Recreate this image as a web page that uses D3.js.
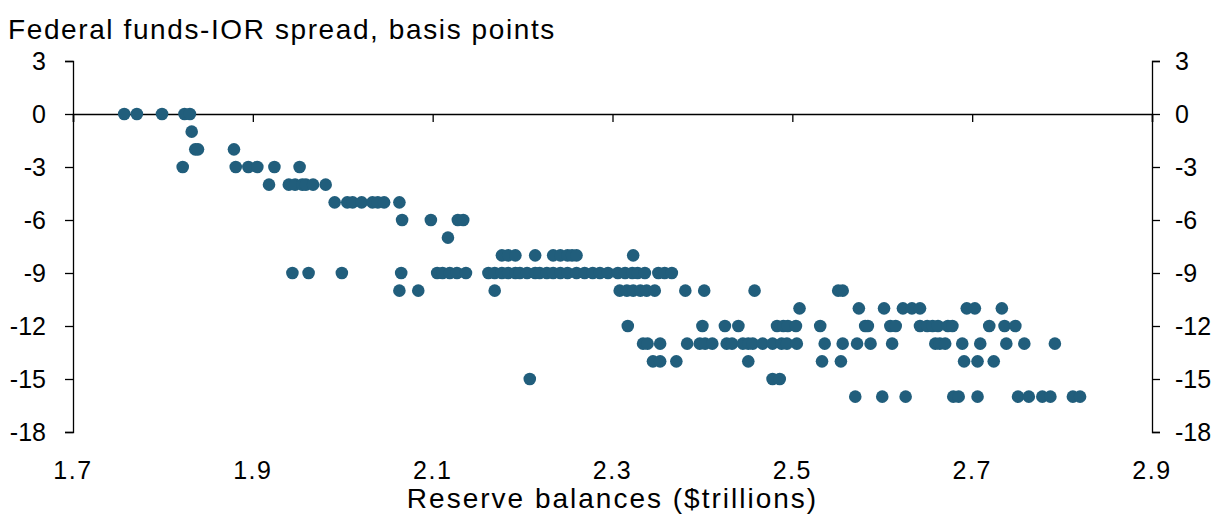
<!DOCTYPE html>
<html>
<head>
<meta charset="utf-8">
<script src="https://cdn.jsdelivr.net/npm/d3@7"></script>
<style>
  body { margin: 0; background: #fff; }
  text { font-family: "Liberation Sans", Arial, sans-serif; fill: #000; }
</style>
</head>
<body>
<div id="chart"></div>
<script>
const width = 1228;
const height = 514;

// reserve balances ($trillions) for each spread level (basis points)
const spread0 = [1.757, 1.771, 1.799, 1.824, 1.830];
const spreadM1 = [1.832];
const spreadM2 = [1.836, 1.839, 1.879];
const spreadM3 = [1.822, 1.881, 1.895, 1.905, 1.924, 1.952];
const spreadM4 = [1.918, 1.940, 1.947, 1.955, 1.959, 1.967, 1.981];
const spreadM5 = [1.991, 2.005, 2.011, 2.021, 2.033, 2.039, 2.046, 2.063];
const spreadM6 = [2.066, 2.098, 2.128, 2.134];
const spreadM7 = [2.117];
const spreadM8 = [2.177, 2.184, 2.192, 2.214, 2.234, 2.242, 2.250, 2.255, 2.260, 2.323];
const spreadM9 = [1.944, 1.962, 1.999, 2.065, 2.105, 2.111, 2.119, 2.127, 2.137, 2.162,
  2.169, 2.177, 2.184, 2.192, 2.197, 2.205, 2.214, 2.219, 2.227, 2.234, 2.242, 2.250,
  2.260, 2.269, 2.278, 2.286, 2.295, 2.306, 2.314, 2.322, 2.328, 2.336, 2.351, 2.358, 2.366];
const spreadM10 = [2.063, 2.084, 2.169, 2.308, 2.316, 2.323, 2.331, 2.338, 2.347, 2.381,
  2.402, 2.458, 2.551, 2.556];
const spreadM11 = [2.508, 2.574, 2.602, 2.623, 2.633, 2.642, 2.694, 2.703, 2.733];
const spreadM12 = [2.317, 2.400, 2.425, 2.440, 2.483, 2.490, 2.495, 2.504, 2.531, 2.581,
  2.584, 2.609, 2.615, 2.642, 2.650, 2.656, 2.662, 2.673, 2.678, 2.719, 2.736, 2.748];
const spreadM13 = [2.334, 2.339, 2.353, 2.383, 2.397, 2.403, 2.411, 2.427, 2.433, 2.445,
  2.451, 2.456, 2.467, 2.478, 2.488, 2.494, 2.505, 2.536, 2.556, 2.572, 2.587, 2.611,
  2.659, 2.664, 2.670, 2.689, 2.709, 2.738, 2.758, 2.792];
const spreadM14 = [2.345, 2.353, 2.371, 2.451, 2.533, 2.554, 2.691, 2.706, 2.724];
const spreadM15 = [2.208, 2.478, 2.486];
const spreadM16 = [2.570, 2.600, 2.626, 2.679, 2.685, 2.706, 2.751, 2.763, 2.778, 2.787,
  2.812, 2.820];

const xTicks = [1.7, 1.9, 2.1, 2.3, 2.5, 2.7, 2.9];
const yTicks = [3, 0, -3, -6, -9, -12, -15, -18];

const rows = [
  [0, spread0], [-1, spreadM1], [-2, spreadM2], [-3, spreadM3], [-4, spreadM4],
  [-5, spreadM5], [-6, spreadM6], [-7, spreadM7], [-8, spreadM8], [-9, spreadM9],
  [-10, spreadM10], [-11, spreadM11], [-12, spreadM12], [-13, spreadM13],
  [-14, spreadM14], [-15, spreadM15], [-16, spreadM16]
];
const points = [];
rows.forEach(([s, xs]) => xs.forEach(r => points.push({ r: r, s: s })));

const plotLeft = 73, plotRight = 1152, plotTop = 61, plotBottom = 432;

const x = d3.scaleLinear().domain([1.7, 2.9]).range([plotLeft, plotRight]);
const y = d3.scaleLinear().domain([-18, 3]).range([plotBottom, plotTop]);

const svg = d3.select("#chart").append("svg")
    .attr("width", width)
    .attr("height", height);

// plain hyphen for negatives, like the original
const fmt = d => String(d);

// left axis
const yLeft = svg.append("g")
    .attr("transform", `translate(${plotLeft},0)`)
    .call(d3.axisLeft(y).tickValues(yTicks).tickSize(8).tickPadding(19).tickFormat(fmt));

// right axis
const yRight = svg.append("g")
    .attr("transform", `translate(${plotRight},0)`)
    .call(d3.axisRight(y).tickValues(yTicks).tickSize(8).tickPadding(15).tickFormat(fmt));

[yLeft, yRight].forEach(g => {
  g.select(".domain").attr("stroke", "#000").attr("stroke-width", 1.3);
  g.selectAll(".tick line").attr("stroke", "#000").attr("stroke-width", 1.3);
  g.selectAll(".tick text")
    .attr("font-size", 25)
    .attr("font-family", "Liberation Sans, Arial, sans-serif")
    .attr("fill", "#000");
});

// zero line with x ticks
const xAxis = svg.append("g")
    .attr("transform", `translate(0,${y(0)})`)
    .call(d3.axisBottom(x).tickValues(xTicks).tickSize(8).tickFormat(""));
xAxis.select(".domain").attr("stroke", "#000").attr("stroke-width", 1.5);
xAxis.selectAll(".tick line").attr("stroke", "#000").attr("stroke-width", 1.3);

// x tick labels at the bottom
svg.append("g")
  .selectAll("text")
  .data(xTicks)
  .join("text")
    .attr("x", d => x(d))
    .attr("y", 479)
    .attr("text-anchor", "middle")
    .attr("font-size", 25)
    .attr("letter-spacing", 1.5)
    .text(d => d.toFixed(1));

// points
svg.append("g")
  .selectAll("circle")
  .data(points)
  .join("circle")
    .attr("cx", d => x(d.r))
    .attr("cy", d => y(d.s))
    .attr("r", 6.3)
    .attr("fill", "#215e7c");

// titles
svg.append("text")
    .attr("x", 8)
    .attr("y", 39)
    .attr("font-size", 28)
    .attr("letter-spacing", 1.6)
    .text("Federal funds-IOR spread, basis points");

svg.append("text")
    .attr("x", (plotLeft + plotRight) / 2)
    .attr("y", 508)
    .attr("text-anchor", "middle")
    .attr("font-size", 28)
    .attr("letter-spacing", 2)
    .text("Reserve balances ($trillions)");
</script>
</body>
</html>
